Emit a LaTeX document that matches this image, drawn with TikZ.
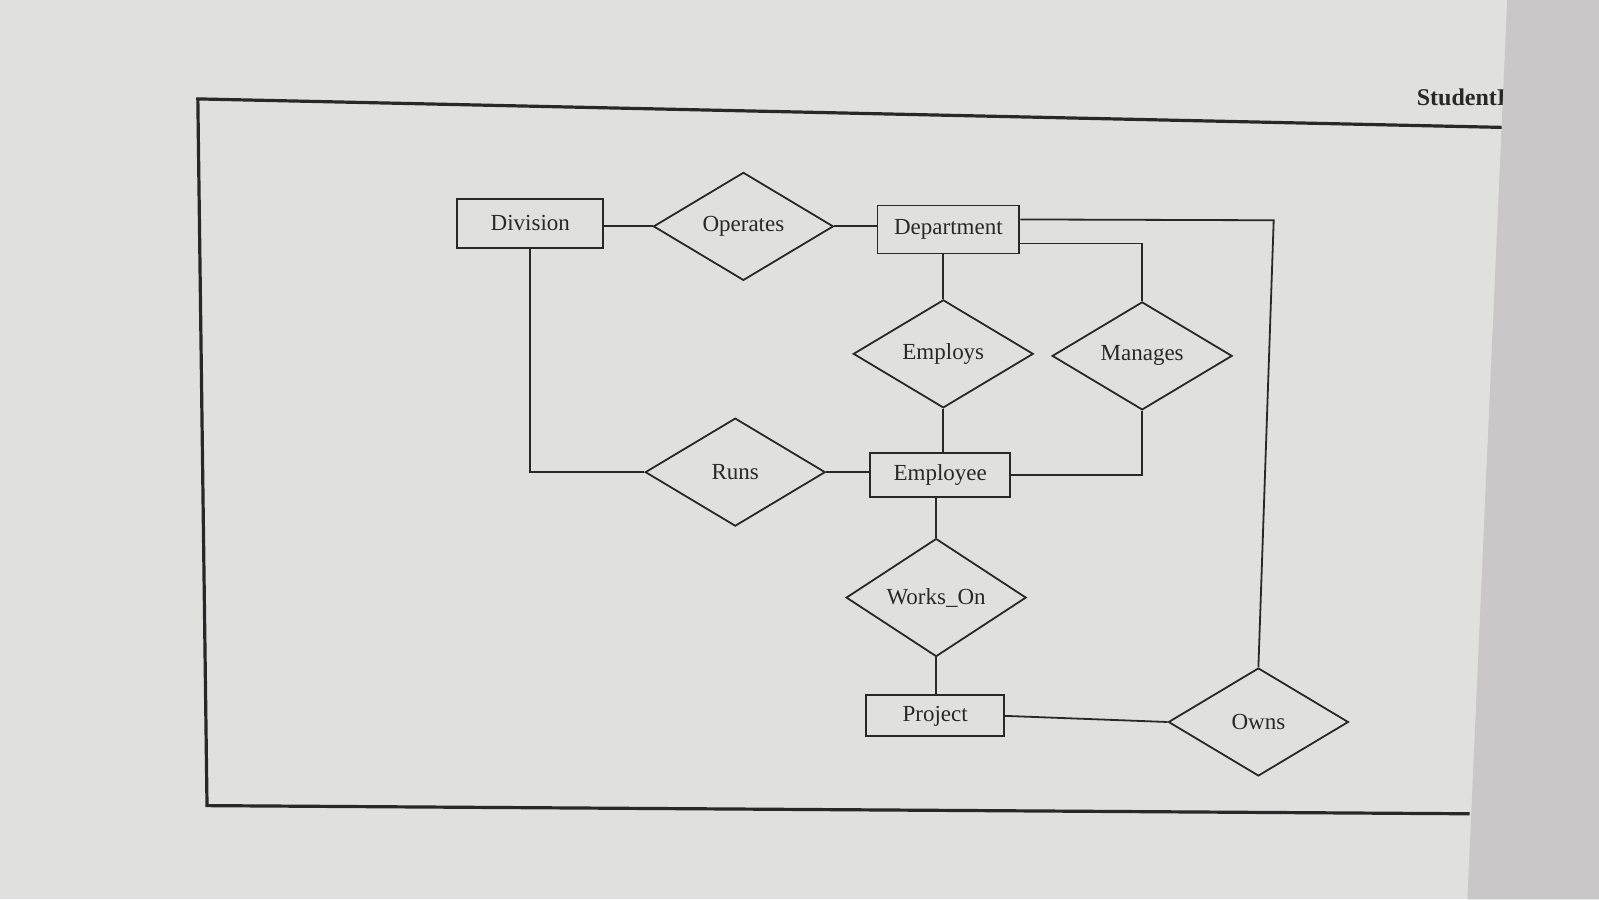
\documentclass[tikz,border=0pt]{standalone}
\usepackage{fontspec}
\setmainfont{Liberation Serif}
\usetikzlibrary{shapes.geometric}
\definecolor{screen}{RGB}{224,224,223}
\definecolor{bezel}{RGB}{201,199,199}
\definecolor{ink}{RGB}{40,40,40}
\tikzset{
  entity/.style={draw=ink, line width=0.9pt, rectangle, inner sep=0pt, font=\fontsize{11.5}{13}\selectfont, text=ink},
  relation/.style={draw=ink, line width=0.9pt, diamond, inner sep=0pt, minimum width=90pt, minimum height=54pt, font=\fontsize{11.5}{13}\selectfont, text=ink},
  link/.style={draw=ink, line width=0.9pt},
}
\begin{document}
\begin{tikzpicture}[x=0.5099pt, y=-0.5099pt]
\useasboundingbox (0,0) rectangle (1568,882);
\fill[screen] (0,0) rectangle (1568,882);
% outer frame (slightly skewed, as photographed)
\draw[ink, line width=1.6pt] (1476,125) -- (194,97) -- (203,790) -- (1441,798);
% title text cut off by the bezel
\node[anchor=west, text=ink, font=\bfseries\fontsize{12}{14}\selectfont, inner sep=0pt] (title) at (1389,95) {StudentId};
% bezel on the right
\fill[bezel] (1478,0) -- (1568,0) -- (1568,882) -- (1439,882) -- cycle;

% entities
\node[entity, minimum width=73pt, minimum height=24.5pt] (div) at (520,219) {Division};
\node[entity, minimum width=71pt, minimum height=24pt] (dep) at (930,225) {Department};
\node[entity, minimum width=70pt, minimum height=22pt] (emp) at (922,466) {Employee};
\node[entity, minimum width=69pt, minimum height=20.5pt] (proj) at (917,702) {Project};

% relationships
\node[relation] (oper) at (729,222) {Operates};
\node[relation] (empl) at (925,347) {Employs};
\node[relation] (man) at (1120,349) {Manages};
\node[relation] (runs) at (721,463) {Runs};
\node[relation] (works) at (918,586) {Works\_On};
\node[relation] (owns) at (1234,708) {Owns};

\coordinate (ownscorner) at (1249,216);

% connectors
\draw[link] (oper.west) -- (oper.west -| div.east);
\draw[link] (oper.east) -- (dep.west |- oper.east);
\draw[link] (div.south) |- (runs.west);
\draw[link] (runs.east) -- (emp.west |- runs.east);
\draw[link] (empl.north) -- (empl.north |- dep.south);
\draw[link] (empl.south) -- (empl.south |- emp.north);
\draw[link] ([yshift=-7pt]dep.east) -| (man.north);
\draw[link] (man.south) |- (emp.east);
\draw[link] ([yshift=5pt]dep.east) -- (ownscorner) -- (owns.north);
\draw[link] (works.north) -- (works.north |- emp.south);
\draw[link] (works.south) -- (works.south |- proj.north);
\draw[link] (proj.east) -- (owns.west);
\end{tikzpicture}
\end{document}
